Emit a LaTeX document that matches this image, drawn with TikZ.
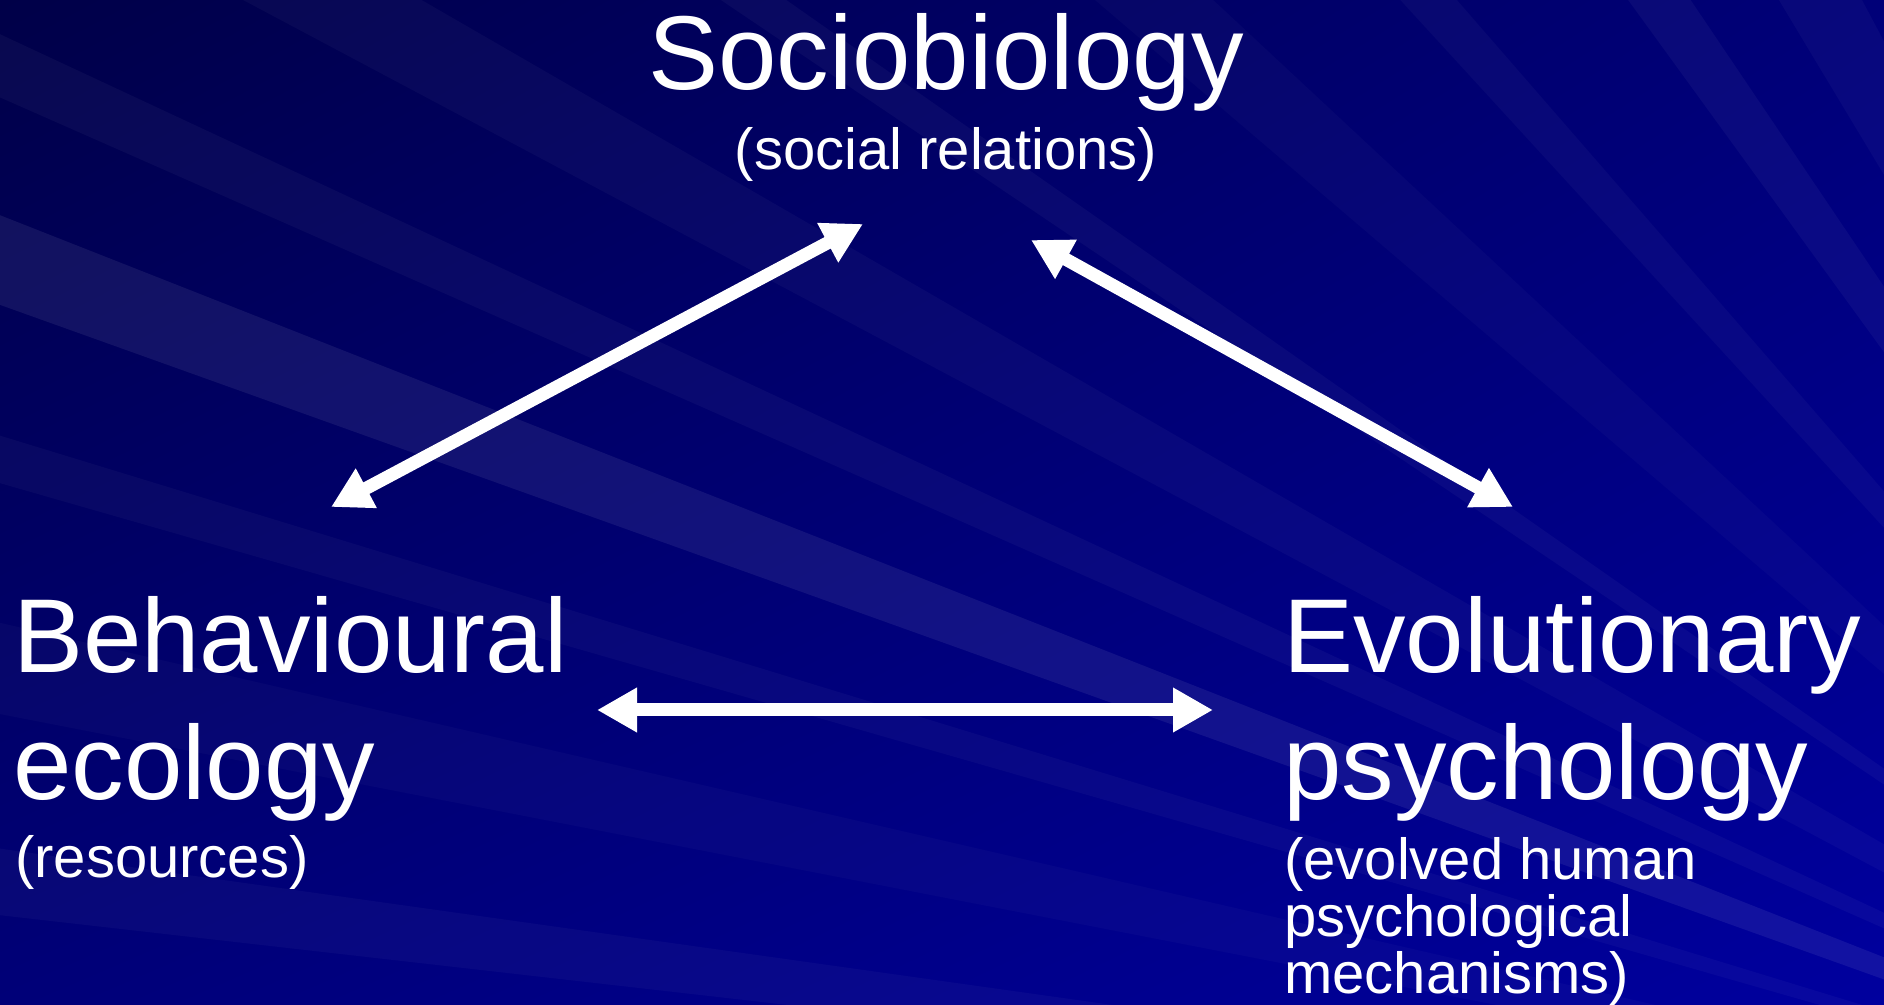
\documentclass[tikz,border=0pt]{standalone}
\usepackage{fontspec}
\setmainfont{Liberation Sans}
\usetikzlibrary{arrows.meta, shadings}

\definecolor{slidedark}{RGB}{0,0,72}
\definecolor{slidemid}{RGB}{0,0,120}
\definecolor{slidelight}{RGB}{0,0,158}

\begin{document}
\begin{tikzpicture}[x=1pt, y=1pt,
    % big headings and the smaller notes under them
    heading/.style={white, inner sep=0pt, align=left, font=\fontsize{105}{127}\selectfont},
    note/.style={white, inner sep=0pt, align=left, font=\fontsize{58}{57}\selectfont},
    % thick white arrows with heads on both ends
    link/.style={white, line width=13pt,
        {Triangle[length=40pt, width=42pt]}-{Triangle[length=40pt, width=42pt]}}
]
\useasboundingbox (0,0) rectangle (1884,1004);

% 1. Background: dark blue, lighter towards the lower right, with faint streaks
\shade[upper left=slidedark, upper right=slidemid, lower left=slidemid, lower right=slidelight]
    (0,0) rectangle (1884,1004);
\begin{scope}
    \clip (0,0) rectangle (1884,1004);
    \foreach \a/\w/\o in {118/3/0.03, 124/2/0.04, 131/1.5/0.03, 137/2.5/0.025,
                          145/1/0.035, 150/2/0.03, 155/1.2/0.035, 158.5/1.8/0.07,
                          163/1/0.03, 167/2/0.025, 172/1.5/0.03} {
        \fill[white, opacity=\o, shift={(2500,-196)}] (0,0) -- (\a:3400) -- (\a+\w:3400) -- cycle;
    }
\end{scope}

% 2. The three fields
\node[heading, anchor=base] (soc) at (946,914) {Sociobiology};
\node[note, anchor=base] (socnote) at (946,834) {(social relations)};

\node[heading, anchor=base west] (beh) at (13,204) {Behavioural\\ecology};
\node[note, anchor=base west] (behnote) at (15,127) {(resources)};

\node[heading, anchor=base west] (evo) at (1283,204) {Evolutionary\\psychology};
\node[note, anchor=base west] (evonote) at (1284,11) {(evolved human\\psychological\\mechanisms)};

% 3. Arrow ends
\coordinate (socL) at (863,780);
\coordinate (socR) at (1031,764);
\coordinate (behT) at (331,497);
\coordinate (behR) at (597,294);
\coordinate (evoT) at (1513,497);
\coordinate (evoL) at (1213,294);

% 4. Links between the fields
\draw[link] (behT) -- (socL);
\draw[link] (socR) -- (evoT);
\draw[link] (behR) -- (evoL);

\end{tikzpicture}
\end{document}
